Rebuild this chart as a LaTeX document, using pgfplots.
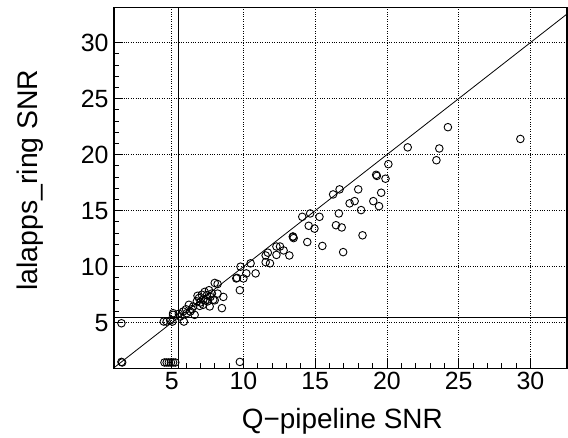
\documentclass[border=0pt]{standalone}
\usepackage{fontspec}
\setmainfont{Liberation Sans}
\usepackage{pgfplots}
\pgfplotsset{compat=1.18}
\begin{document}
\begin{tikzpicture}
\begin{axis}[
  name=ax,
  scale only axis,
  width=453bp, height=361bp,
  xmin=0.98, xmax=32.55, ymin=0.93, ymax=33.15,
  xtick={5,10,15,20,25,30}, ytick={5,10,15,20,25,30},
  minor tick num=4,
  xtick pos=bottom, ytick pos=left,
  tick align=inside,
  major tick length=9bp, minor tick length=5bp,
  every tick/.style={black, line width=0.8bp},
  grid=major,
  major grid style={black, dotted, line width=0.7bp},
  axis line style={black, line width=1.4bp},
  /pgf/number format/assume math mode=true,
  ticklabel style={font=\fontsize{25}{29}\selectfont},
  xticklabel style={yshift=-0.5bp},
  yticklabel style={xshift=-2bp},
  every axis x label/.style={at={(axis description cs:0.504,-0.1654)}, anchor=base, font=\fontsize{28}{32}\selectfont},
  every axis y label/.style={at={(axis description cs:-0.185,0.5216)}, rotate=90, anchor=center, font=\fontsize{28.5}{32}\selectfont},
  xlabel={Q−pipeline SNR},
  ylabel={lalapps\_ring SNR},
  clip=true,
]
\addplot[black, line width=0.9bp, mark=o, only marks, mark size=3.8bp, mark options={line width=0.9bp}] coordinates {
(1.5,1.5) (1.55,1.45) (1.5,4.95)
(4.5,1.45) (4.65,1.45) (4.8,1.45) (4.95,1.45) (5.1,1.45) (5.25,1.45) (9.75,1.5)
(4.45,5.1) (4.65,5.1) (4.9,5.2) (5.05,5.1) (5.1,5.7) (5.1,5.85) (5.6,5.55) (5.85,5.1)
(5.8,6.0) (6.05,5.85) (6.3,6.0) (6.6,5.7) (6.5,6.45) (6.75,6.9) (6.95,6.5) (7.2,7.05)
(7.45,7.45) (7.3,7.75) (7.65,6.45) (7.9,7.05) (8.0,8.55) (8.2,8.45) (8.2,7.6) (8.6,7.3)
(8.5,6.3) (6.2,6.6) (6.9,7.2) (7.0,6.8) (7.5,6.9) (7.7,7.3) (7.8,7.6) (6.4,6.2)
(7.1,7.5) (7.35,7.0) (6.0,6.2) (5.5,5.8) (7.6,7.9) (8.0,7.0) (7.2,6.6) (6.8,7.4)
(9.5,8.95) (9.55,9.0) (10.0,8.95) (10.2,9.4) (10.85,9.4) (9.75,7.9) (9.8,10.0) (10.5,10.3)
(11.55,11.0) (11.7,11.25) (11.55,10.4) (11.85,10.3) (12.3,11.8) (12.3,11.05) (12.8,11.45)
(13.2,11.0) (13.45,12.65) (13.5,12.55) (13.45,12.7) (12.55,11.8)
(14.45,12.2) (14.55,13.65) (14.95,13.4) (14.1,14.45) (14.65,14.75) (15.3,14.45) (15.5,11.85)
(16.25,16.45) (16.7,16.9) (16.65,14.75) (16.45,13.7) (16.85,13.5) (16.95,11.3) (17.4,15.65)
(17.75,15.85) (18.0,16.9) (18.2,15.05) (18.3,12.8) (19.05,15.85) (19.45,15.4) (19.6,16.6)
(19.25,18.2) (19.3,18.1) (19.9,17.85) (20.1,19.15) (21.45,20.65) (23.45,19.5) (23.65,20.55)
(24.25,22.45) (29.3,21.4)
};
\addplot[black, line width=0.8bp] coordinates {(0.93,0.93) (33.15,33.15)};
\addplot[black, line width=1bp] coordinates {(5.5,0.93) (5.5,33.15)};
\addplot[black, line width=1bp] coordinates {(0.98,5.5) (32.55,5.5)};
\end{axis}
\pgfresetboundingbox
\path[use as bounding box] ([shift={(-114bp,-69.7bp)}]ax.south west) rectangle ([shift={(1bp,7.3bp)}]ax.north east);
\end{tikzpicture}
\end{document}
